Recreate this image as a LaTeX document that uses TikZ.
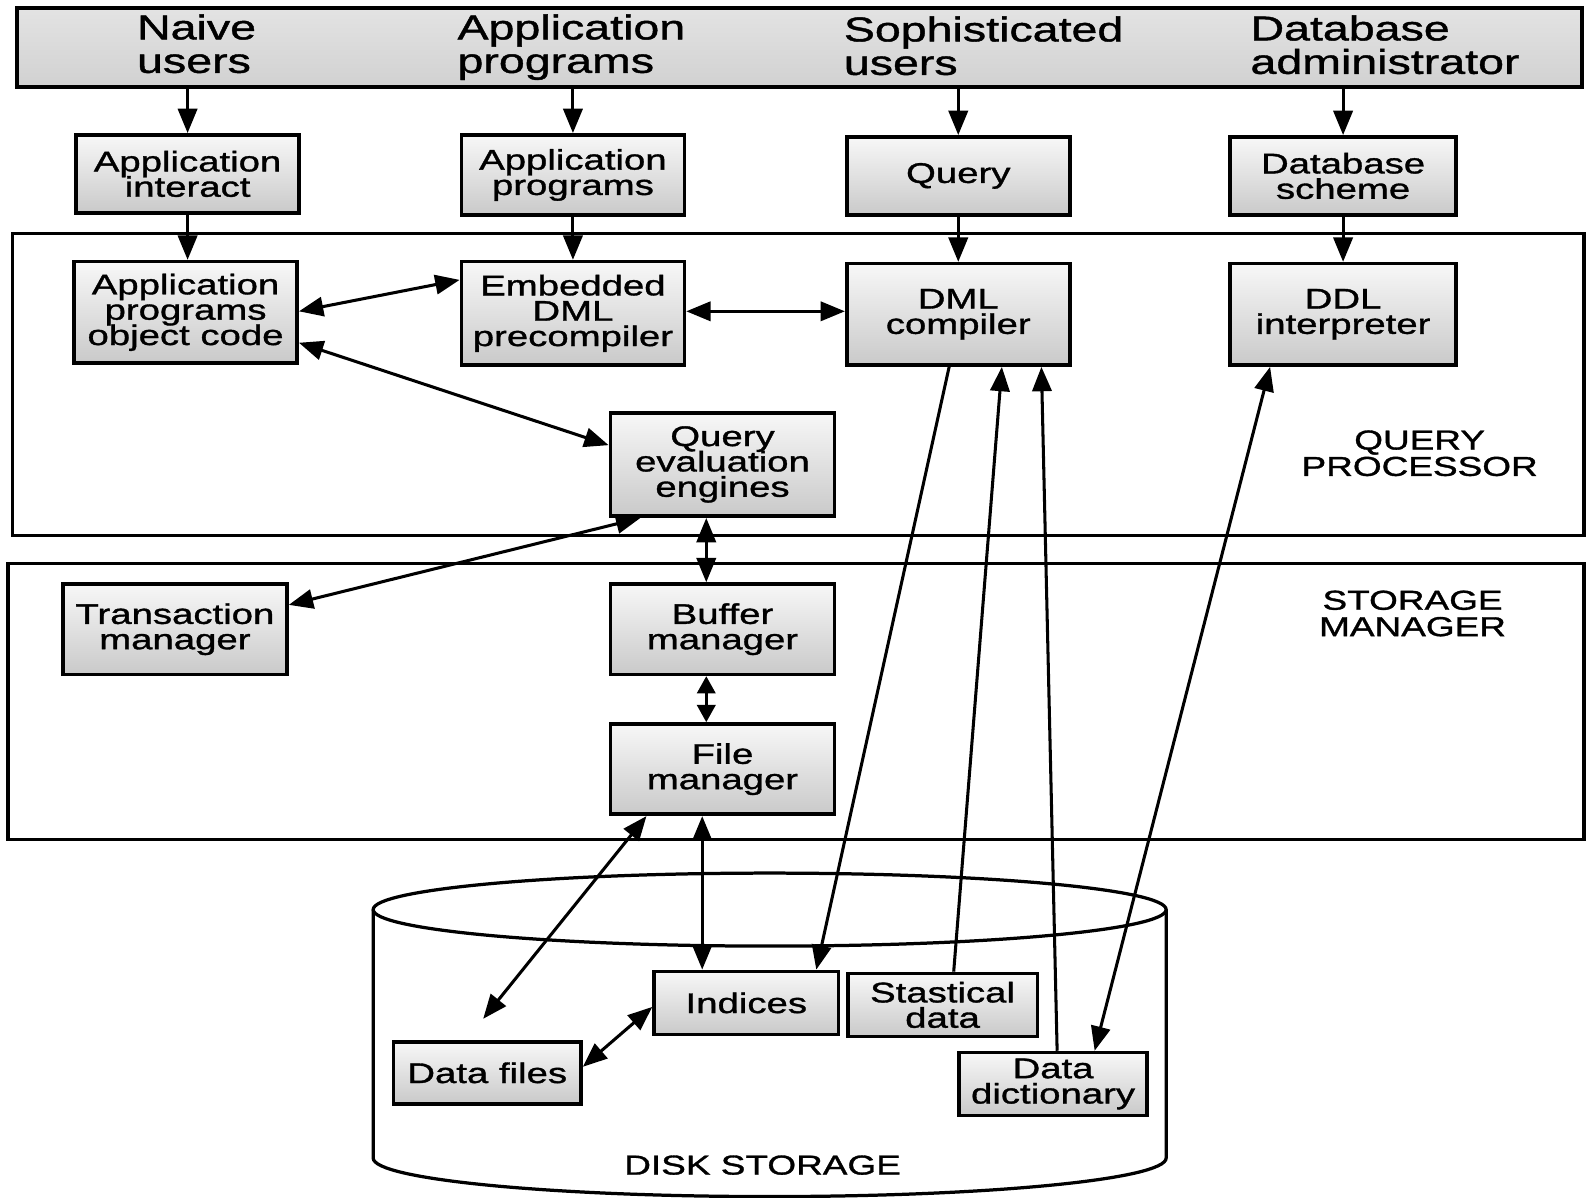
\documentclass[tikz,border=0pt]{standalone}
\usepackage{fontspec}
\setmainfont{Liberation Sans}[FakeStretch=1.35,FakeBold=1.2]
\usetikzlibrary{arrows.meta}

% fonts: box text, banner text, section captions
\newcommand\dbboxfont{\fontsize{28}{25}\selectfont\lineskiplimit=-40pt\lineskip=0pt\relax}
\newcommand\dbtopfont{\fontsize{34}{33}\selectfont\lineskiplimit=-40pt\lineskip=0pt\relax}
\newcommand\dbcapfont{\fontsize{27}{26}\selectfont\lineskiplimit=-40pt\lineskip=0pt\relax}
% invisible strut so every banner line has the same height and depth
\newcommand\dbln[1]{\rule[-9pt]{0pt}{27pt}#1}

\begin{document}
\begin{tikzpicture}[x=1pt,y=-1pt,
  >={Triangle[length=24pt,width=19pt]},
  box/.style={draw, line width=3.6pt, top color=gray!6, bottom color=gray!42,
    inner sep=0pt, align=center, font=\dbboxfont},
  bar/.style={draw, line width=3.8pt, top color=gray!22, bottom color=gray!36, inner sep=0pt},
  frame/.style={draw, line width=3.2pt},
  conn/.style={line width=3pt},
  shortconn/.style={line width=3pt,
    {Triangle[length=17pt,width=18pt]}-{Triangle[length=17pt,width=18pt]}},
  toplabel/.style={anchor=north west, align=left, inner sep=0pt, font=\dbtopfont},
  caption/.style={align=center, inner sep=0pt, font=\dbcapfont}]

\useasboundingbox (0,0) rectangle (1568,1181);

% users banner
\node[bar, minimum width=1543pt, minimum height=78pt] (banner) at (788.5,47) {};
\node[toplabel] (nu)  at (135,14)  {\dbln{Naive}\\\dbln{users}};
\node[toplabel] (apu) at (451,14)  {\dbln{Application}\\\dbln{programs}};
\node[toplabel] (su)  at (832,16)  {\dbln{Sophisticated}\\\dbln{users}};
\node[toplabel] (dba) at (1233,15) {\dbln{Database}\\\dbln{administrator}};

% query processor and storage manager frames
\draw[frame] (12,230) rectangle (1562,528);
\draw[frame] (8,556) rectangle (1562,828);
\node[caption] (qpl) at (1400,447) {QUERY\\PROCESSOR};
\node[caption] (sml) at (1393,605) {STORAGE\\MANAGER};

% disk storage cylinder
\draw[frame] (368,897) -- (368,1142)
  arc[start angle=180, end angle=360, x radius=391pt, y radius=38pt] -- (1150,897);
\draw[frame] (759,897) ellipse[x radius=391pt, y radius=36pt];
\node[caption] (dsl) at (752,1149) {DISK STORAGE};

% interface boxes
\node[box, minimum width=220pt, minimum height=77pt] (ai)  at (185,171.5)  {Application\\interact};
\node[box, minimum width=220pt, minimum height=79pt] (ap)  at (565,172.5)  {Application\\programs};
\node[box, minimum width=220pt, minimum height=77pt] (q)   at (945,173.5)  {Query};
\node[box, minimum width=223pt, minimum height=77pt] (ds)  at (1324.5,173.5) {Database\\scheme};

% query processor components
\node[box, minimum width=220pt, minimum height=100pt] (oc)  at (183,308)  {Application\\programs\\object code};
\node[box, minimum width=220pt, minimum height=102pt] (edp) at (565,309)  {Embedded\\DML\\precompiler};
\node[box, minimum width=220pt, minimum height=100pt] (dml) at (945,310)  {DML\\compiler};
\node[box, minimum width=223pt, minimum height=100pt] (ddl) at (1324.5,310) {DDL\\interpreter};
\node[box, minimum width=221pt, minimum height=102pt] (qee) at (712.5,458) {Query\\evaluation\\engines};

% storage manager components
\node[box, minimum width=221pt, minimum height=89pt] (tm) at (172.5,620.5) {Transaction\\manager};
\node[box, minimum width=221pt, minimum height=89pt] (bm) at (712.5,620.5) {Buffer\\manager};
\node[box, minimum width=221pt, minimum height=89pt] (fm) at (712.5,758.5) {File\\manager};

% disk contents
\node[box, minimum width=182pt, minimum height=62pt] (idx) at (736,989)   {Indices};
\node[box, minimum width=187pt, minimum height=62pt] (sd)  at (929.5,991) {Stastical\\data};
\node[box, minimum width=185pt, minimum height=61pt] (df)  at (480.5,1058) {Data files};
\node[box, minimum width=185pt, minimum height=62pt] (dd)  at (1038.5,1069) {Data\\dictionary};

% connectors
\draw[conn,->] (banner.south -| ai.north) -- (ai.north);
\draw[conn,->] (banner.south -| ap.north) -- (ap.north);
\draw[conn,->] (banner.south -| q.north) -- (q.north);
\draw[conn,->] (banner.south -| ds.north) -- (ds.north);
\draw[conn,->] (ai.south) -- (ai.south |- oc.north);
\draw[conn,->] (ap.south) -- (ap.south |- edp.north);
\draw[conn,->] (q.south) -- (q.south |- dml.north);
\draw[conn,->] (ds.south) -- (ds.south |- ddl.north);
\draw[conn,<->] ([yshift=1pt]oc.east) -- ([yshift=33pt]edp.west);
\draw[conn,<->] ([yshift=2pt]edp.east) -- ([yshift=2pt]edp.east -| dml.west);
\draw[conn,<->] ([yshift=-30pt]oc.east) -- ([yshift=19pt]qee.west);
\draw[conn,<->] ([xshift=-81pt]qee.south) -- ([yshift=24pt]tm.east);
\draw[conn,<->] ([xshift=-16pt]qee.south) -- ([xshift=-16pt]bm.north);
\draw[shortconn] ([xshift=-16pt]bm.south) -- ([xshift=-16pt]fm.north);
\draw[conn,<->] ([xshift=-75pt]fm.south) -- ([xshift=-4pt,yshift=21pt]df.north);
\draw[conn,<->] ([xshift=-20pt]fm.south) -- ([xshift=-20pt]fm.south |- idx.north);
\draw[conn,<->] ([yshift=-4pt]idx.west) -- ([yshift=6pt]df.east);
\draw[conn,->] ([xshift=-9pt]dml.south) -- ([xshift=69pt]idx.north);
\draw[conn,->] ([xshift=11pt]sd.north) -- ([xshift=43pt]dml.south);
\draw[conn,->] ([xshift=4pt]dd.north) -- ([xshift=82pt]dml.south);
\draw[conn,<->] ([xshift=-72pt]ddl.south) -- ([xshift=41pt]dd.north);
\end{tikzpicture}
\end{document}
